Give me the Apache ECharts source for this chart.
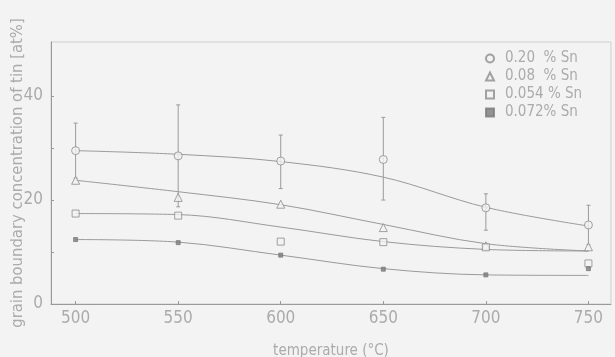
<!DOCTYPE html>
<html>
<head>
<meta charset="utf-8">
<script src="https://cdn.jsdelivr.net/npm/echarts@6/dist/echarts.min.js"></script>
<style>
  html, body { margin: 0; padding: 0; background: #f3f3f3; }
  #chart { width: 615px; height: 357px; }
</style>
</head>
<body>
<div id="chart"></div>
<script>
// Annealing temperature (°C)
const temps = [500, 550, 600, 650, 700, 750];
const xTickLabels = [500, 550, 600, 650, 700, 750];
const yTickLabels = [0, 20, 40];
const yTickMarks = [10, 20, 30, 40];

// Measured grain boundary tin concentration (at%)
const sn020 = [29.5, 28.5, 27.5, 27.8, 18.5, 15.2];
const sn020Low = [24.2, 18.7, 22.2, 20.0, 14.2, 11.4];
const sn020High = [34.8, 38.3, 32.5, 35.9, 21.2, 19.0];
const sn008 = [23.8, 20.5, 19.2, 14.7, 11.2, 11.0];
const sn0054 = [17.4, 17.0, 12.0, 11.9, 10.9, 7.8];
const sn0072 = [12.4, 11.8, 9.4, 6.7, 5.6, 6.8];

// Fitted trend curves
const fit020 = [29.5, 28.8, 27.4, 24.4, 18.6, 15.0];
const fit008 = [23.8, 21.6, 19.1, 15.3, 11.6, 10.2];
const fit0054 = [17.4, 17.2, 14.8, 12.0, 10.5, 10.2];
const fit0072 = [12.4, 11.9, 9.4, 6.8, 5.6, 5.5];

const names = ['0.20  % Sn', '0.08  % Sn', '0.054 % Sn', '0.072% Sn'];

const FONT = 'DejaVu Sans Condensed';
const INK = '#8c8c8c';
const TEXT = '#ababab';
const BG = '#f3f3f3';

const pairs = (ys) => temps.map((t, i) => [t, ys[i]]);

function fitLine(ys) {
  return {
    type: 'line',
    data: pairs(ys),
    smooth: 0.35,
    symbol: 'none',
    silent: true,
    lineStyle: { color: '#9a9a9a', width: 1 },
    z: 2
  };
}

function markers(name, ys, symbol, size, filled) {
  return {
    type: 'scatter',
    name: name,
    data: pairs(ys),
    symbol: symbol,
    symbolSize: size,
    itemStyle: filled
      ? { color: '#7a7a7a', borderColor: '#7a7a7a', borderWidth: 1 }
      : { color: BG, borderColor: INK, borderWidth: 1 },
    z: 4
  };
}

const chart = echarts.init(document.getElementById('chart'), null, { renderer: 'canvas' });

chart.setOption({
  backgroundColor: BG,
  animation: false,
  textStyle: { fontFamily: FONT },
  grid: {
    left: 51, top: 42, right: 4, bottom: 53,
    outerBoundsMode: 'none',
    containLabel: false,
    show: true, borderColor: '#cfcfcf', borderWidth: 1, backgroundColor: 'transparent'
  },
  legend: {
    orient: 'vertical',
    left: 480, top: 46,
    itemWidth: 8, itemHeight: 8,
    itemGap: 3,
    data: names,
    textStyle: { color: TEXT, fontSize: 15, fontFamily: FONT, padding: [0, 0, 0, 6] }
  },
  xAxis: {
    type: 'value',
    min: 488, max: 761,
    name: 'temperature (°C)',
    nameLocation: 'middle',
    nameGap: 40,
    nameTextStyle: { color: TEXT, fontSize: 15, fontFamily: FONT },
    axisLine: { show: true, lineStyle: { color: '#9a9a9a', width: 1 } },
    axisTick: { show: true, inside: true, length: 3, customValues: xTickLabels, lineStyle: { color: '#9a9a9a' } },
    axisLabel: { customValues: xTickLabels, color: TEXT, fontSize: 17, fontFamily: FONT, margin: 6 },
    splitLine: { show: false }
  },
  yAxis: {
    type: 'value',
    min: 0, max: 50.4,
    name: 'grain boundary concentration of tin [at%]',
    nameLocation: 'middle',
    nameGap: 25,
    nameMoveOverlap: false,
    nameTextStyle: { color: TEXT, fontSize: 16.5, fontFamily: FONT },
    axisLine: { show: true, lineStyle: { color: '#9a9a9a', width: 1 } },
    axisTick: { show: true, inside: true, length: 3, customValues: yTickMarks, lineStyle: { color: '#9a9a9a' } },
    axisLabel: { customValues: yTickLabels, color: TEXT, fontSize: 17, fontFamily: FONT, margin: 8 },
    splitLine: { show: false }
  },
  series: [
    fitLine(fit020),
    fitLine(fit008),
    fitLine(fit0054),
    fitLine(fit0072),
    {
      type: 'custom',
      silent: true,
      data: temps.map((t, i) => [t, sn020Low[i], sn020High[i]]),
      encode: { x: 0, y: [1, 2] },
      z: 3,
      renderItem: function (params, api) {
        const x = api.value(0);
        const lo = api.coord([x, api.value(1)]);
        const hi = api.coord([x, api.value(2)]);
        const style = { stroke: '#9a9a9a', lineWidth: 1 };
        return {
          type: 'group',
          children: [
            { type: 'line', shape: { x1: lo[0], y1: lo[1], x2: hi[0], y2: hi[1] }, style: style },
            { type: 'line', shape: { x1: hi[0] - 2, y1: hi[1], x2: hi[0] + 2, y2: hi[1] }, style: style },
            { type: 'line', shape: { x1: lo[0] - 2, y1: lo[1], x2: lo[0] + 2, y2: lo[1] }, style: style }
          ]
        };
      }
    },
    markers(names[0], sn020, 'circle', 8, false),
    markers(names[1], sn008, 'triangle', 8, false),
    markers(names[2], sn0054, 'rect', 7, false),
    markers(names[3], sn0072, 'rect', 4, true)
  ]
});
</script>
</body>
</html>
